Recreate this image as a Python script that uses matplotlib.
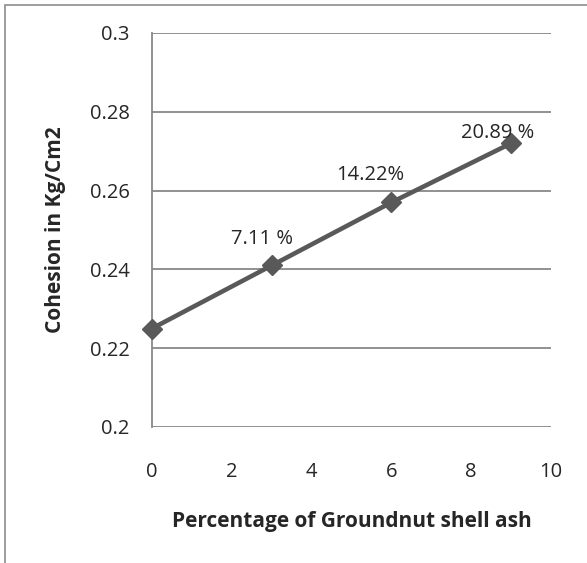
import matplotlib.pyplot as plt
from matplotlib.patches import Rectangle

# data
ash_pct = [0, 3, 6, 9]
cohesion = [0.225, 0.241, 0.257, 0.272]
point_labels = [None, "7.11 %", "14.22%", "20.89 %"]
label_offsets = [None, (-7, 19), (-15, 20), (-9.5, 7.6)]  # points
y_ticks = [0.2, 0.22, 0.24, 0.26, 0.28, 0.3]
y_tick_labels = ["0.2", "0.22", "0.24", "0.26", "0.28", "0.3"]
x_ticks = [0, 2, 4, 6, 8, 10]

plt.rcParams['font.family'] = ['Open Sans', 'DejaVu Sans']
text_color = "#262626"
grid_color = "#888888"

fig = plt.figure(figsize=(5.87, 5.63), dpi=100)
ax = fig.add_axes([152 / 587, 1 - 427 / 563, 399 / 587, 394 / 563])

# outer chart border (only left and top edges are visible in the reference)
fig.patches.append(Rectangle((5 / 587, -0.05), 1.2, 1 - 5 / 563 + 0.05,
                             transform=fig.transFigure, fill=False,
                             edgecolor="#8c8c8c", linewidth=1.2))

ax.plot(ash_pct, cohesion, color="#595959", linewidth=3.3, marker="D",
        markersize=10.5, zorder=3, clip_on=False)

for x, y, txt, off in zip(ash_pct, cohesion, point_labels, label_offsets):
    if txt:
        ax.annotate(txt, (x, y), xytext=off, textcoords="offset points",
                    ha="center", va="center", fontsize=14.5, color=text_color)

ax.set_xlim(0, 10)
ax.set_ylim(0.2, 0.3)
ax.set_xticks(x_ticks)
ax.set_yticks(y_ticks)
ax.set_yticklabels(y_tick_labels)
ax.grid(axis="y", color=grid_color, linewidth=1.3)
ax.set_axisbelow(True)

for side in ["top", "right", "bottom"]:
    ax.spines[side].set_visible(False)
ax.spines["left"].set_color(grid_color)
ax.spines["left"].set_linewidth(1.3)

ax.tick_params(axis="both", length=0, labelsize=14.5, colors=text_color)
ax.tick_params(axis="x", pad=25)
ax.tick_params(axis="y", pad=16)

ax.set_xlabel("Percentage of Groundnut shell ash", fontsize=15,
              fontweight="bold", color=text_color, labelpad=21)
ax.set_ylabel("Cohesion in Kg/Cm2", fontsize=15, fontweight="bold",
              color=text_color, labelpad=17)

fig.savefig("out.png", dpi=100)
